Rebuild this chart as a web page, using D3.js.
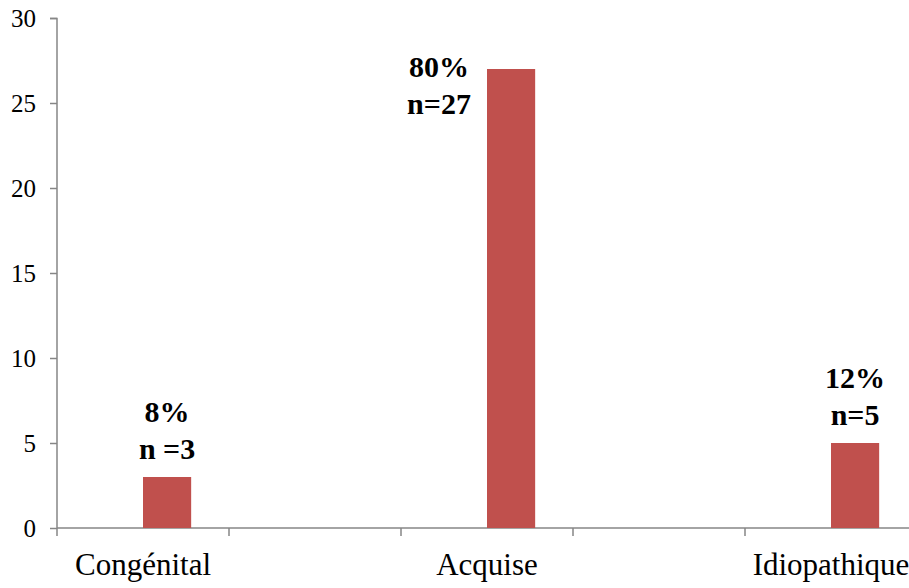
<!DOCTYPE html>
<html>
<head>
<meta charset="utf-8">
<script src="https://cdn.jsdelivr.net/npm/d3@7"></script>
<style>
  html, body { margin: 0; padding: 0; background: #fff; }
  svg { display: block; }
</style>
</head>
<body>
<svg id="chart" width="909" height="588"></svg>
<script>
// Étiologies: counts per category, with the labels shown above each bar
const categories = ["Congénital", "Acquise", "Idiopathique"];
const counts = [3, 27, 5];
const percentLabels = ["8%", "80%", "12%"];
const countLabels = ["n =3", "n=27", "n=5"];
const yTicks = [0, 5, 10, 15, 20, 25, 30];

const FONT = "\"Liberation Serif\", \"Times New Roman\", serif";
const svg = d3.select("#chart");
const margin = { left: 57, top: 18, right: -8, bottom: 60 };
const W = 909, H = 588;
const innerW = W - margin.left - margin.right;
const innerH = H - margin.top - margin.bottom;
const axisColor = "#868686";
const barColor = "#C0504D";

// Five slots on the category axis; the named categories sit on slots 0, 2, 4
const slots = d3.range(categories.length * 2 - 1);
const x = d3.scaleBand().domain(slots).range([0, innerW]).paddingInner(0).paddingOuter(0);
const slotOf = i => i * 2;
const y = d3.scaleLinear().domain([0, 30]).range([innerH, 0]);

const g = svg.append("g").attr("transform", `translate(${margin.left},${margin.top})`);

// Y axis
const yAxis = g.append("g")
  .call(d3.axisLeft(y).tickValues(yTicks).tickSize(7).tickPadding(14).tickFormat(d3.format("d")));
yAxis.select(".domain").attr("stroke", axisColor).attr("stroke-width", 1.5)
  .attr("d", `M-7,0.5H0V${innerH}`);
yAxis.selectAll(".tick line").attr("stroke", axisColor).attr("stroke-width", 1.5);
yAxis.selectAll(".tick text").attr("fill", "#000")
  .style("font-family", FONT).style("font-size", "25px").attr("dy", "0.33em");

// X axis line with tick marks at slot boundaries
const xg = g.append("g").attr("transform", `translate(0,${innerH})`);
xg.append("line").attr("x1", 0).attr("x2", innerW).attr("y1", 0).attr("y2", 0)
  .attr("stroke", axisColor).attr("stroke-width", 1.5);
xg.selectAll("line.tick").data(slots).enter().append("line")
  .attr("class", "tick")
  .attr("x1", d => x(d)).attr("x2", d => x(d))
  .attr("y1", 0).attr("y2", 8)
  .attr("stroke", axisColor).attr("stroke-width", 1.5);
xg.selectAll("text.cat").data(categories).enter().append("text")
  .attr("class", "cat")
  .attr("x", (d, i) => x(slotOf(i)) + x.bandwidth() / 2)
  .attr("y", 47)
  .attr("text-anchor", "middle")
  .style("font-family", FONT)
  .style("font-size", "31px")
  .text(d => d);

// Bars: offset to the right half of each slot
const barW = x.bandwidth() * 0.28;
const barX = i => x(slotOf(i)) + x.bandwidth() / 2;
g.selectAll("rect.bar").data(counts).enter().append("rect")
  .attr("class", "bar")
  .attr("x", (d, i) => barX(i))
  .attr("y", d => y(d))
  .attr("width", barW)
  .attr("height", d => innerH - y(d))
  .attr("fill", barColor);

// Value labels (two lines, bold)
const labelX = [barX(0) + barW / 2, barX(1) - 48, barX(2) + barW / 2];
const labels = g.selectAll("g.lbl").data(counts).enter().append("g").attr("class", "lbl");
labels.append("text")
  .attr("x", (d, i) => labelX[i])
  .attr("y", (d, i) => i === 1 ? y(d) + 8 : y(d) - 55)
  .attr("text-anchor", "middle")
  .style("font-family", FONT)
  .style("font-size", "30px").style("font-weight", "bold")
  .text((d, i) => percentLabels[i]);
labels.append("text")
  .attr("x", (d, i) => labelX[i])
  .attr("y", (d, i) => i === 1 ? y(d) + 45 : y(d) - 18)
  .attr("text-anchor", "middle")
  .style("font-family", FONT)
  .style("font-size", "30px").style("font-weight", "bold")
  .text((d, i) => countLabels[i]);
</script>
</body>
</html>
